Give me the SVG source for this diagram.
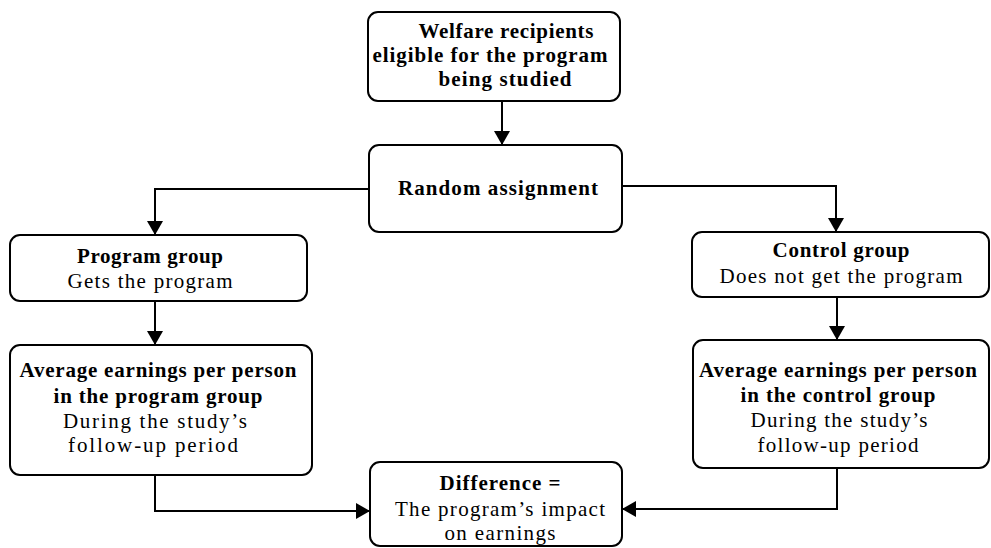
<svg xmlns="http://www.w3.org/2000/svg" width="991" height="548" viewBox="0 0 991 548">
<style>
.box{fill:#fff;stroke:#000;stroke-width:2}
.b{font-family:"Liberation Serif",serif;font-weight:bold;font-size:21px;fill:#000;text-anchor:middle}
.r{font-family:"Liberation Serif",serif;font-size:21px;fill:#000;text-anchor:middle}
.c{fill:none;stroke:#000;stroke-width:2}
</style>
<defs>
<marker id="ah" markerUnits="userSpaceOnUse" markerWidth="14" markerHeight="16" refX="14" refY="8" orient="auto" viewBox="0 0 14 16">
<path d="M0,0 L14,8 L0,16 z" fill="#000"/>
</marker>
</defs>
<rect width="991" height="548" fill="#fff"/>
<g id="connectors">
<path class="c" d="M502,101 V145" marker-end="url(#ah)"/>
<path class="c" d="M370,189 H155 V235" marker-end="url(#ah)"/>
<path class="c" d="M622,186 H836 V232" marker-end="url(#ah)"/>
<path class="c" d="M155,301 V345" marker-end="url(#ah)"/>
<path class="c" d="M837,297 V340" marker-end="url(#ah)"/>
<path class="c" d="M155,475 V511 H370" marker-end="url(#ah)"/>
<path class="c" d="M837,468 V509 H622" marker-end="url(#ah)"/>
</g>
<g id="eligible">
<rect class="box" x="368" y="12" width="252" height="89" rx="10"/>
<text class="b" x="506" y="38" textLength="175">Welfare recipients</text>
<text class="b" x="490" y="62" textLength="235">eligible for the program</text>
<text class="b" x="505" y="86" textLength="133">being studied</text>
</g>
<g id="random">
<rect class="box" x="369" y="145" width="253" height="87" rx="10"/>
<text class="b" x="498" y="195" textLength="200">Random assignment</text>
</g>
<g id="program">
<rect class="box" x="10" y="235" width="297" height="66" rx="10"/>
<text class="b" x="150" y="263" textLength="146">Program group</text>
<text class="r" x="150" y="288" textLength="165">Gets the program</text>
</g>
<g id="control">
<rect class="box" x="692" y="232" width="297" height="65" rx="10"/>
<text class="b" x="841" y="257" textLength="137">Control group</text>
<text class="r" x="841" y="283" textLength="243">Does not get the program</text>
</g>
<g id="avgprogram">
<rect class="box" x="10" y="345" width="302" height="130" rx="10"/>
<text class="b" x="158" y="377" textLength="277">Average earnings per person</text>
<text class="b" x="158" y="403" textLength="209">in the program group</text>
<text class="r" x="155" y="428" textLength="184">During the study’s</text>
<text class="r" x="153" y="452" textLength="170">follow-up period</text>
</g>
<g id="avgcontrol">
<rect class="box" x="693" y="340" width="296" height="128" rx="10"/>
<text class="b" x="838" y="377" textLength="278">Average earnings per person</text>
<text class="b" x="838" y="402" textLength="195">in the control group</text>
<text class="r" x="839" y="427" textLength="177">During the study’s</text>
<text class="r" x="838" y="452" textLength="161">follow-up period</text>
</g>
<g id="difference">
<rect class="box" x="370" y="462" width="252" height="84" rx="10"/>
<text class="b" x="500" y="490" textLength="121">Difference =</text>
<text class="r" x="500" y="516" textLength="210">The program’s impact</text>
<text class="r" x="500" y="540" textLength="111">on earnings</text>
</g>
</svg>
